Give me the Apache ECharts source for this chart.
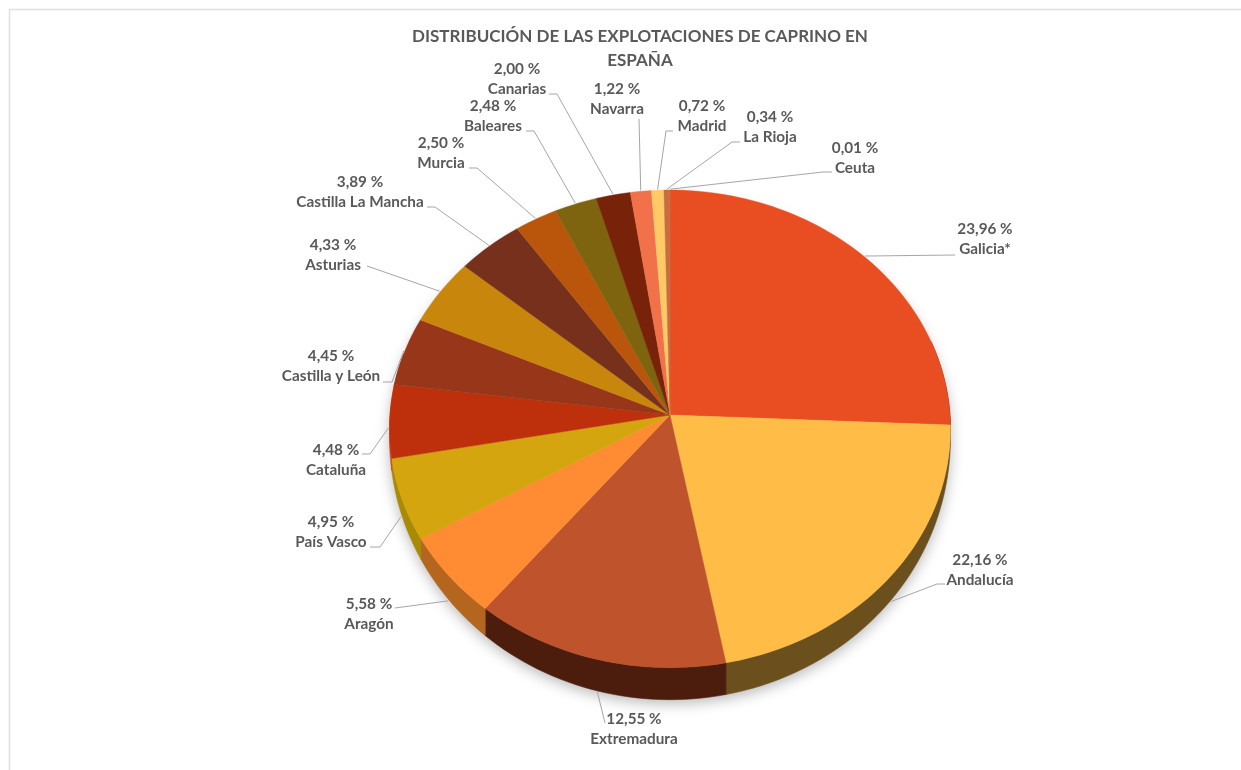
<!DOCTYPE html>
<html><head><meta charset="utf-8">
<script src="https://cdn.jsdelivr.net/npm/echarts@6/dist/echarts.min.js"></script>
<style>html,body{margin:0;padding:0;background:#fff}#c{width:1241px;height:770px}</style>
</head><body><div id="c"></div>
<script>
const regions = ['Galicia*','Andalucía','Extremadura','Aragón','País Vasco','Cataluña','Castilla y León','Asturias','Castilla La Mancha','Murcia','Baleares','Canarias','Navarra','Madrid','La Rioja','Ceuta'];
const shares = [23.96,22.16,12.55,5.58,4.95,4.48,4.45,4.33,3.89,2.50,2.48,2.00,1.22,0.72,0.34,0.01];
const topColors = ['#E84E22','#FFBC47','#BE532C','#FF8C33','#D4A50F','#BE300C','#98361A','#C9860D','#76301C','#BA560C','#7F6410','#782209','#F0714A','#FFC966','#C96C3F','#C96C3F'];
const wallColors = ['#7A2A12','#6B4F1C','#4C1C0C','#B4661F','#A88A05','#D8431A','#98361A','#C9860D','#76301C','#BA560C','#7F6410','#782209','#F0714A','#FFC966','#C96C3F','#C96C3F'];
// label centre [x, y] and leader elbow points, layout only
const labelAt = [[985,239],[980,570],[634,729],[369,614],[331,532],[336,460],[331,366],[333,255],[360,192],[441,153],[493,116],[517,79],[617,99],[702,116],[770,127],[855,158]];
const elbows = [[[955,255]],[[945,584],[937,584]],[[605,723]],[[395,608]],[[370,547],[380,547]],[[362,454],[370,454]],[[383,382],[392,382]],[[367,266]],[[427,207],[435,207]],[[469,168],[477,168]],[[526,131],[534,131]],[[549,94],[557,94]],[[639,119]],[[673,131],[666,131]],[[740,142],[732,142]],[[832,172],[823,172]]];
// view geometry: perspective disc
const view = {cx:670, cy:415, rx:280, ry:238, k:0.058, rim:5, depth:27};
const angleWarp = [[0,0],[90,2.2],[173.6,-4.5],[221,-1.8],[242,-2.2],[260,-1],[277,0],[360,0]];

const total = shares.reduce((a,b)=>a+b,0);
const starts = []; let acc = 0;
shares.forEach(v=>{starts.push(acc); acc += v;});
const toDeg = v => v/total*360;
function warp(d){
  for(let i=1;i<angleWarp.length;i++){
    const a=angleWarp[i-1],b=angleWarp[i];
    if(d<=b[0]) return d + a[1]+(b[1]-a[1])*(d-a[0])/(b[0]-a[0]);
  }
  return d;
}
function project(d, lower, scale){
  const t = warp(d)*Math.PI/180, s = scale||1;
  const u = Math.sin(t)*s, v = -Math.cos(t)*s, w = 1 - view.k*v;
  const dy = lower ? view.rim + view.depth*Math.pow(Math.max(0,v),0.8) : 0;
  return [view.cx + view.rx*u/w, view.cy + view.ry*v/w + dy];
}
function arc(a,b,lower){
  const pts=[]; const n=Math.max(2,Math.ceil((b-a)/1.5));
  for(let i=0;i<=n;i++) pts.push(project(a+(b-a)*i/n,lower));
  return pts;
}
function renderSlice(params, api){
  const i = params.dataIndex;
  const a = toDeg(starts[i]), b = a + toDeg(api.value(0));
  const children = [];
  if(i===0){
    children.push({type:'polygon',z2:0,silent:true,shape:{points:arc(0,360,true)},
      style:{fill:'#ddd',shadowBlur:14,shadowColor:'rgba(0,0,0,0.28)',shadowOffsetY:4}});
  }
  const wa=Math.max(a,70), wb=Math.min(b,285);
  if(wb>wa){
    const top=arc(wa,wb,false), bot=arc(wa,wb,true).reverse();
    children.push({type:'polygon',z2:1,shape:{points:top.concat(bot)},
      style:{fill:wallColors[i],stroke:wallColors[i],lineWidth:0.6}});
  }
  children.push({type:'polygon',z2:2,shape:{points:[[view.cx,view.cy]].concat(arc(a,b,false))},
    style:{fill:topColors[i],stroke:topColors[i],lineWidth:0.4}});
  const mid=(a+b)/2, md=warp(mid);
  const end=project(mid,md>100&&md<272,1.004);
  children.push({type:'polyline',z2:3,silent:true,shape:{points:elbows[i].concat([end])},
    style:{fill:null,stroke:'#A6A6A6',lineWidth:1}});
  const pos=labelAt[i];
  children.push({type:'text',z2:4,silent:true,x:pos[0],y:pos[1],
    style:{text:api.value(0).toFixed(2).replace('.',',')+' %\n'+regions[i],
      align:'center',verticalAlign:'middle',lineHeight:20.5,
      font:'bold 15.3px Lato, sans-serif',fill:'#595959'}});
  return {type:'group',children};
}
const chart = echarts.init(document.getElementById('c'),null,{renderer:'canvas'});
chart.setOption({
  backgroundColor:'#fff',
  animation:false,
  title:{text:'DISTRIBUCIÓN DE LAS EXPLOTACIONES DE CAPRINO EN\nESPAÑA',left:635,top:20,textAlign:'center',
    textStyle:{fontFamily:'Lato, sans-serif',fontWeight:'bold',fontSize:17,lineHeight:24,color:'#595959'}},
  graphic:[{type:'rect',silent:true,shape:{x:9.5,y:9.5,width:1300,height:850},style:{fill:null,stroke:'#E0E0E0',lineWidth:1.5}}],
  series:[{type:'custom',coordinateSystem:'none',renderItem:renderSlice,
    data:regions.map((n,i)=>({name:n,value:[shares[i]]}))}]
});
</script></body></html>
